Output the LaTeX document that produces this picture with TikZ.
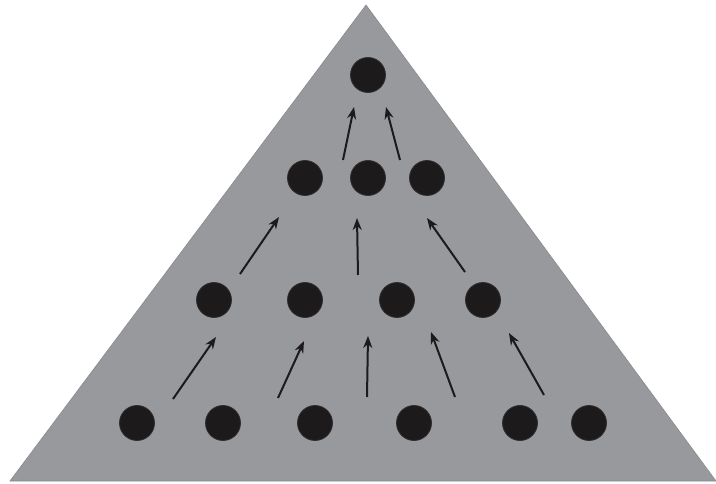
\documentclass[tikz,border=0pt]{standalone}
\usetikzlibrary{arrows.meta}
\definecolor{pyrgray}{RGB}{152,153,156}
\definecolor{dotblack}{RGB}{28,26,26}
\tikzset{
  pyramid/.style = {fill=pyrgray, draw=pyrgray!90!black, line width=0.6pt},
  dot/.style     = {circle, fill=dotblack, draw=dotblack!80!gray,
                    line width=0.8pt, minimum size=35pt, inner sep=0pt},
  rise/.style    = {-{Stealth[length=12pt,width=9pt]}, line width=2pt,
                    draw=dotblack}
}
\begin{document}
\begin{tikzpicture}[x=1pt,y=-1pt]
\useasboundingbox (0,0) rectangle (716,484);
\fill[white] (0,0) rectangle (716,484);
% Pyramid
\path[pyramid] (10,481) -- (366,5) -- (716,481) -- cycle;
% Dots, row by row from the bottom
\foreach \name/\x/\y in {d1/137/423, d2/223/423, d3/315/423, d4/414/423,
                         d5/520/423, d6/589/423,
                         c1/214/300, c2/305/300, c3/397/300, c4/483/300,
                         b1/305/178, b2/368/178, b3/427/178,
                         a1/368/75} {
  \node[dot] (\name) at (\x,\y) {};
}
% Arrows: tail, head
\foreach \i/\sx/\sy/\ex/\ey in {1/173/399/216/337, 2/278/398/304/341,
                                3/367/397/368/336, 4/455/397/431/332,
                                5/544/395/509/333,
                                6/240/274/279/217, 7/358/275/357/218,
                                8/465/272/427/218,
                                9/343/160/354/107, 10/400/160/386/107} {
  \coordinate (t\i) at (\sx,\sy);
  \coordinate (h\i) at (\ex,\ey);
  \draw[rise] (t\i) -- (h\i);
}
\end{tikzpicture}
\end{document}
